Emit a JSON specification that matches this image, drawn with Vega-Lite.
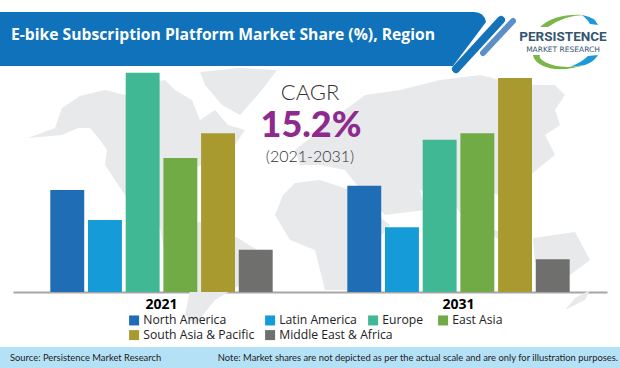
{"$schema":"https://vega.github.io/schema/vega-lite/v6.json","autosize":{"type":"none"},"width":594,"height":292,"padding":{"left":13,"right":13,"top":0,"bottom":76},"background":"white","config":{"view":{"stroke":null}},"resolve":{"scale":{"x":"independent","y":"independent","color":"independent","xOffset":"independent"}},"layer":[
{"data":{"values":[{"part":"map"}]},"mark":{"type":"point","filled":true,"opacity":1,"strokeWidth":0,"color":"#e7e9eb","shape":"M28 138L55 128L62 108L80 96L105 90L125 95L140 84L165 80L175 90L192 100L200 120L215 110L228 125L245 130L235 145L215 160L190 170L170 195L165 225L200 222L238 238L265 255L240 285L215 300L195 325L185 315L190 290L165 255L160 228L125 195L105 165L107 150L100 140L90 128L78 128L62 135ZM200 72L240 68L277 70L262 90L240 115L222 105L205 85ZM283 195L295 183L320 180L350 190L365 205L390 225L365 255L355 290L325 290L315 250L290 240L275 215ZM300 165L295 150L320 130L345 110L365 95L400 90L440 80L480 75L520 85L555 85L565 95L555 110L560 125L545 135L555 155L530 175L525 195L505 200L490 190L470 225L450 200L420 190L425 210L385 215L365 195L345 170L320 165ZM480 225L500 232L530 245L505 245ZM533 238L575 232L590 260L570 275L535 262ZM565 310L575 298L590 290L585 300Z"},"encoding":{"x":{"datum":0,"scale":{"domain":[13,607],"nice":false,"zero":false},"axis":null},"y":{"datum":0,"scale":{"domain":[0,292],"reverse":true,"nice":false,"zero":false},"axis":null},"size":{"value":4}}},
{"data":{"values":[{"year":"2021","region":"North America","share":14.0},{"year":"2021","region":"Latin America","share":9.9},{"year":"2021","region":"South Asia & Pacific","share":21.8},{"year":"2021","region":"Middle East & Africa","share":5.8},{"year":"2031","region":"North America","share":14.6},{"year":"2031","region":"Latin America","share":8.9},{"year":"2031","region":"South Asia & Pacific","share":29.4},{"year":"2031","region":"Middle East & Africa","share":4.5}]},"mark":{"type":"bar"},"encoding":{"x":{"field":"year","type":"nominal","scale":{"domain":["2021","2031"],"paddingInner":0,"paddingOuter":0},"axis":{"title":null,"labelAngle":0,"labelFontSize":14,"labelFontWeight":"bold","labelColor":"#000000","labelFont":"Open Sans","labelPadding":5,"ticks":false,"domainColor":"#a6a6a6","domainWidth":2,"grid":false}},"xOffset":{"field":"region","type":"nominal","scale":{"domain":["North America","Latin America","Europe","East Asia","South Asia & Pacific","Middle East & Africa"],"paddingInner":0.1,"paddingOuter":0.99}},"y":{"field":"share","type":"quantitative","scale":{"domain":[0,40.11],"nice":false},"axis":null},"color":{"field":"region","type":"nominal","scale":{"domain":["North America","Latin America","South Asia & Pacific","Middle East & Africa"],"range":["#1f6db5","#169bd9","#a99a30","#6f6f6d"]},"legend":{"title":null,"orient":"none","legendX":115,"legendY":314,"direction":"horizontal","columns":2,"gridAlign":"each","columnPadding":9,"rowPadding":2,"symbolType":"square","symbolSize":100,"symbolStrokeWidth":0,"symbolOpacity":1,"labelFont":"Open Sans","labelFontSize":12.2,"labelColor":"#222222","labelOffset":3}}}},
{"data":{"values":[{"year":"2021","region":"Europe","share":30.1},{"year":"2021","region":"East Asia","share":18.4},{"year":"2031","region":"Europe","share":20.9},{"year":"2031","region":"East Asia","share":21.8}]},"mark":{"type":"bar"},"encoding":{"x":{"field":"year","type":"nominal","scale":{"domain":["2021","2031"],"paddingInner":0,"paddingOuter":0},"axis":null},"xOffset":{"field":"region","type":"nominal","scale":{"domain":["North America","Latin America","Europe","East Asia","South Asia & Pacific","Middle East & Africa"],"paddingInner":0.1,"paddingOuter":0.99}},"y":{"field":"share","type":"quantitative","scale":{"domain":[0,40.11],"nice":false},"axis":null},"color":{"field":"region","type":"nominal","scale":{"domain":["Europe","East Asia"],"range":["#41b894","#70ab45"]},"legend":{"title":null,"orient":"none","legendX":354,"legendY":314,"direction":"horizontal","columns":2,"gridAlign":"each","columnPadding":13,"rowPadding":2,"symbolType":"square","symbolSize":100,"symbolStrokeWidth":0,"symbolOpacity":1,"labelFont":"Open Sans","labelFontSize":12.2,"labelColor":"#222222","labelOffset":3}}}},
{"data":{"values":[{"part":"banner"}]},"mark":{"type":"point","filled":true,"opacity":1,"strokeWidth":0,"color":"#0f72ba","shape":"M0 12L474 12Q484 12 486 22L453 66L0 66Z"},"encoding":{"x":{"datum":0,"scale":{"domain":[13,607],"nice":false,"zero":false},"axis":null},"y":{"datum":0,"scale":{"domain":[0,292],"reverse":true,"nice":false,"zero":false},"axis":null},"size":{"value":4}}},
{"data":{"values":[{"part":"slash"}]},"mark":{"type":"rule","color":"#1472b8","strokeWidth":8,"strokeCap":"round"},"encoding":{"x":{"datum":456,"scale":{"domain":[13,607],"nice":false,"zero":false},"axis":null},"x2":{"datum":501},"y":{"datum":69,"scale":{"domain":[0,292],"reverse":true,"nice":false,"zero":false},"axis":null},"y2":{"datum":20}}},
{"data":{"values":[{"part":"slash"}]},"mark":{"type":"rule","color":"#5b8fc8","strokeWidth":6,"strokeCap":"round"},"encoding":{"x":{"datum":483,"scale":{"domain":[13,607],"nice":false,"zero":false},"axis":null},"x2":{"datum":513},"y":{"datum":53,"scale":{"domain":[0,292],"reverse":true,"nice":false,"zero":false},"axis":null},"y2":{"datum":21}}},
{"data":{"values":[{"part":"logo"}]},"mark":{"type":"point","filled":true,"opacity":1,"strokeWidth":0,"color":"#7ab648","shape":"M540 27Q555 13 585 15Q565 15 548 27ZM533 55Q535 66 555 69Q570 70 585 65Q560 70 545 62Q538 58 540 55Z"},"encoding":{"x":{"datum":0,"scale":{"domain":[13,607],"nice":false,"zero":false},"axis":null},"y":{"datum":0,"scale":{"domain":[0,292],"reverse":true,"nice":false,"zero":false},"axis":null},"size":{"value":4}}},
{"data":{"values":[{"part":"logo"}]},"mark":{"type":"point","filled":true,"opacity":1,"strokeWidth":0,"color":"#1c9ad6","shape":"M582 15Q595 17 598 25L590 24Q588 20 582 15ZM585 65Q594 62 598 55L588 56Q582 62 570 67Z"},"encoding":{"x":{"datum":0,"scale":{"domain":[13,607],"nice":false,"zero":false},"axis":null},"y":{"datum":0,"scale":{"domain":[0,292],"reverse":true,"nice":false,"zero":false},"axis":null},"size":{"value":4}}},
{"data":{"values":[{"label":"E-bike Subscription Platform Market Share (%), Region"}]},"mark":{"type":"text","align":"left","baseline":"middle","font":"Open Sans","fontWeight":"bold","fontSize":15.7,"color":"#ffffff"},"encoding":{"text":{"field":"label"},"x":{"datum":11,"scale":{"domain":[13,607],"nice":false,"zero":false},"axis":null},"y":{"datum":35,"scale":{"domain":[0,292],"reverse":true,"nice":false,"zero":false},"axis":null}}},
{"data":{"values":[{"label":"PERSISTENCE"}]},"mark":{"type":"text","align":"center","baseline":"middle","font":"Roboto","fontWeight":"bold","fontSize":13.5,"color":"#34556f"},"encoding":{"text":{"field":"label"},"x":{"datum":563,"scale":{"domain":[13,607],"nice":false,"zero":false},"axis":null},"y":{"datum":37,"scale":{"domain":[0,292],"reverse":true,"nice":false,"zero":false},"axis":null}}},
{"data":{"values":[{"label":"MARKET RESEARCH"}]},"mark":{"type":"text","align":"center","baseline":"middle","font":"DejaVu Sans","fontSize":7.5,"color":"#34556f"},"encoding":{"text":{"field":"label"},"x":{"datum":563,"scale":{"domain":[13,607],"nice":false,"zero":false},"axis":null},"y":{"datum":50,"scale":{"domain":[0,292],"reverse":true,"nice":false,"zero":false},"axis":null}}},
{"data":{"values":[{"label":"CAGR"}]},"mark":{"type":"text","align":"center","baseline":"middle","font":"Lato","fontWeight":300,"fontSize":22,"color":"#333333"},"encoding":{"text":{"field":"label"},"x":{"datum":310,"scale":{"domain":[13,607],"nice":false,"zero":false},"axis":null},"y":{"datum":93,"scale":{"domain":[0,292],"reverse":true,"nice":false,"zero":false},"axis":null}}},
{"data":{"values":[{"label":"15.2%"}]},"mark":{"type":"text","align":"center","baseline":"middle","font":"Lato","fontWeight":900,"fontSize":36,"color":"#8e2a8e"},"encoding":{"text":{"field":"label"},"x":{"datum":311,"scale":{"domain":[13,607],"nice":false,"zero":false},"axis":null},"y":{"datum":126,"scale":{"domain":[0,292],"reverse":true,"nice":false,"zero":false},"axis":null}}},
{"data":{"values":[{"label":"(2021-2031)"}]},"mark":{"type":"text","align":"center","baseline":"middle","font":"Lato","fontWeight":300,"fontSize":16,"color":"#333333"},"encoding":{"text":{"field":"label"},"x":{"datum":310,"scale":{"domain":[13,607],"nice":false,"zero":false},"axis":null},"y":{"datum":157,"scale":{"domain":[0,292],"reverse":true,"nice":false,"zero":false},"axis":null}}},
{"data":{"values":[{"part":"footer"}]},"mark":{"type":"rect","color":"#b5e1f7"},"encoding":{"x":{"datum":0,"scale":{"domain":[13,607],"nice":false,"zero":false},"axis":null},"x2":{"datum":620},"y":{"datum":347,"scale":{"domain":[0,292],"reverse":true,"nice":false,"zero":false},"axis":null},"y2":{"datum":368}}},
{"data":{"values":[{"label":"Source: Persistence Market Research"}]},"mark":{"type":"text","align":"left","baseline":"middle","font":"Lato","fontSize":9.4,"color":"#222222"},"encoding":{"text":{"field":"label"},"x":{"datum":10,"scale":{"domain":[13,607],"nice":false,"zero":false},"axis":null},"y":{"datum":358,"scale":{"domain":[0,292],"reverse":true,"nice":false,"zero":false},"axis":null}}},
{"data":{"values":[{"label":"Note: Market shares are not depicted as per the actual scale and are only for illustration purposes."}]},"mark":{"type":"text","align":"right","baseline":"middle","font":"Lato","fontSize":9.4,"color":"#222222"},"encoding":{"text":{"field":"label"},"x":{"datum":618,"scale":{"domain":[13,607],"nice":false,"zero":false},"axis":null},"y":{"datum":358,"scale":{"domain":[0,292],"reverse":true,"nice":false,"zero":false},"axis":null}}}
]}
